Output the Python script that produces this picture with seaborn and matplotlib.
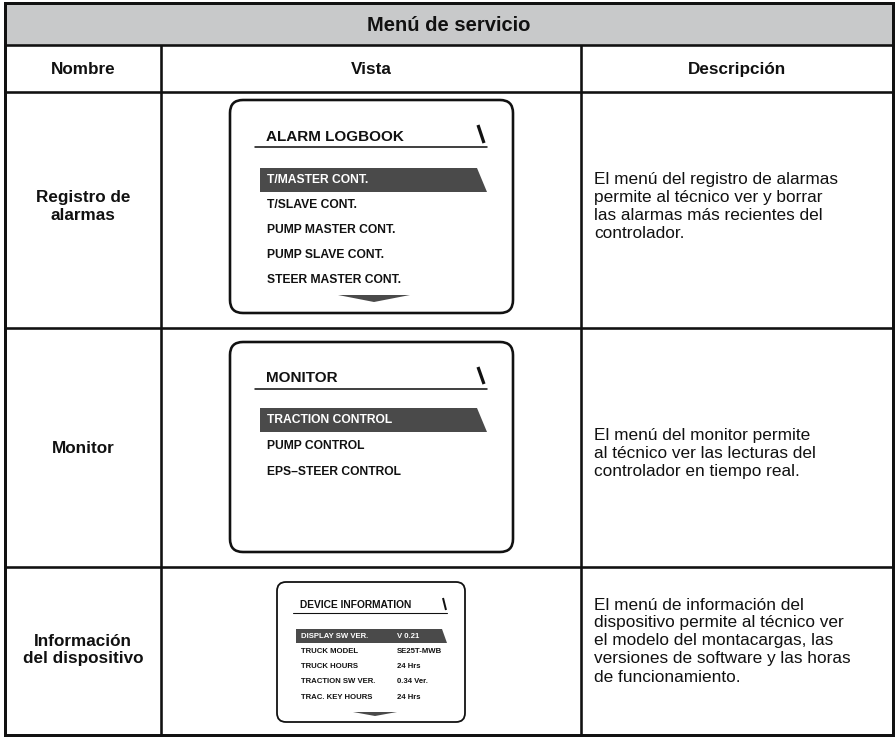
import matplotlib
matplotlib.use("Agg")
import matplotlib.pyplot as plt
import seaborn as sns
from matplotlib.patches import Rectangle, FancyBboxPatch, Polygon

# ---------------- data ----------------
title = "Menú de servicio"
col_headers = ["Nombre", "Vista", "Descripción"]
row_names = [["Registro de", "alarmas"], ["Monitor"], ["Información", "del dispositivo"]]
descriptions = [
    ["El menú del registro de alarmas", "permite al técnico ver y borrar",
     "las alarmas más recientes del", "controlador."],
    ["El menú del monitor permite", "al técnico ver las lecturas del",
     "controlador en tiempo real."],
    ["El menú de información del", "dispositivo permite al técnico ver",
     "el modelo del montacargas, las", "versiones de software y las horas",
     "de funcionamiento."],
]
screen_titles = ["ALARM LOGBOOK", "MONITOR", "DEVICE INFORMATION"]
alarm_items = ["T/MASTER CONT.", "T/SLAVE CONT.", "PUMP MASTER CONT.",
               "PUMP SLAVE CONT.", "STEER MASTER CONT."]
monitor_items = ["TRACTION CONTROL", "PUMP CONTROL", "EPS\u2013STEER CONTROL"]
device_items = ["DISPLAY SW VER.", "TRUCK MODEL", "TRUCK HOURS",
                "TRACTION SW VER.", "TRAC. KEY HOURS"]
device_values = ["V 0.21", "SE25T-MWB", "24 Hrs", "0.34 Ver.", "24 Hrs"]

# ---------------- style ----------------
sns.set_theme(style="white")
plt.rcParams["font.family"] = ["Liberation Sans", "DejaVu Sans"]

W, H = 896, 737
fig = plt.figure(figsize=(W / 100, H / 100), dpi=100)
ax = fig.add_axes([0, 0, 1, 1])
ax.set_xlim(0, W)
ax.set_ylim(H, 0)
ax.axis("off")
sns.despine(ax=ax, left=True, bottom=True)

PX = 0.72  # points per pixel at 100 dpi
col_x = [5, 161, 581, 893]
row_y = [3, 45, 92, 328, 567, 735]
ink = "#111111"

# title band
ax.add_patch(Rectangle((col_x[0], row_y[0]), col_x[3] - col_x[0], row_y[1] - row_y[0],
                       facecolor="#c8c9ca", edgecolor="none", zorder=1))
# grid lines
for y in row_y[1:-1]:
    ax.plot([col_x[0], col_x[3]], [y, y], color=ink, lw=2.6 * PX, solid_capstyle="butt", zorder=3)
for x in col_x[1:-1]:
    ax.plot([x, x], [row_y[1], row_y[-1]], color=ink, lw=2.6 * PX, solid_capstyle="butt", zorder=3)
ax.add_patch(Rectangle((col_x[0], row_y[0]), col_x[3] - col_x[0], row_y[-1] - row_y[0],
                       facecolor="none", edgecolor=ink, lw=3.0 * PX, zorder=4))

ax.text((col_x[0] + col_x[3]) / 2, (row_y[0] + row_y[1]) / 2 + 1, title,
        ha="center", va="center", fontsize=14.5, fontweight="bold", color=ink)
for i, h in enumerate(col_headers):
    ax.text((col_x[i] + col_x[i + 1]) / 2, (row_y[1] + row_y[2]) / 2 + 1, h,
            ha="center", va="center", fontsize=12.3, fontweight="bold", color=ink)

LS = 18
name_centers = [206, 448, 650]
desc_centers = [206, 453, 641]
for r, lines in enumerate(row_names):
    n = len(lines)
    for k, t in enumerate(lines):
        y = name_centers[r] + (k - (n - 1) / 2) * LS
        ax.text((col_x[0] + col_x[1]) / 2, y, t, ha="center", va="center",
                fontsize=12.3, fontweight="bold", color=ink)
for r, lines in enumerate(descriptions):
    n = len(lines)
    for k, t in enumerate(lines):
        y = desc_centers[r] + (k - (n - 1) / 2) * LS
        ax.text(594, y, t, ha="left", va="center", fontsize=12.4, color=ink)


def screen(x0, y0, x1, y1, rad, lw, title_txt, title_fs, title_y, ul_y, ul_x0, ul_x1,
           bs, items, item_fs, item_y0, item_dy, hl_h, hl_x0, hl_x1, slant, text_x,
           values=None, val_x=None, arrow=None):
    ax.add_patch(FancyBboxPatch((x0, y0), x1 - x0, y1 - y0,
                                boxstyle=f"round,pad=0,rounding_size={rad}",
                                facecolor="white", edgecolor=ink, lw=lw, zorder=5))
    ax.text(text_x, title_y, title_txt, ha="left", va="center", fontsize=title_fs,
            fontweight="bold", color=ink, zorder=7)
    ax.plot([ul_x0, ul_x1], [ul_y, ul_y], color=ink, lw=lw * 0.6, zorder=6)
    ax.plot(bs[0], bs[1], color=ink, lw=bs[2], solid_capstyle="butt", zorder=6)
    for k, it in enumerate(items):
        y = item_y0 + k * item_dy
        col = ink
        if k == 0:
            ax.add_patch(Polygon([(hl_x0, y - hl_h / 2), (hl_x1 - slant, y - hl_h / 2),
                                  (hl_x1, y + hl_h / 2), (hl_x0, y + hl_h / 2)],
                                 closed=True, facecolor="#4a4a4a", edgecolor="none", zorder=6))
            col = "white"
        ax.text(text_x + 1, y, it, ha="left", va="center", fontsize=item_fs,
                fontweight="bold", color=col, zorder=7)
        if values is not None:
            ax.text(val_x, y, values[k], ha="left", va="center", fontsize=item_fs,
                    fontweight="bold", color=col, zorder=7)
    if arrow is not None:
        ax0, ax1_, ay0, ay1 = arrow
        ax.add_patch(Polygon([(ax0, ay0), (ax1_, ay0), ((ax0 + ax1_) / 2, ay1)],
                             closed=True, facecolor="#4a4a4a", edgecolor="none", zorder=6))


# alarm logbook screen
screen(230, 100, 513, 313, 13, 2.6 * PX, screen_titles[0], 11, 137, 147, 255, 487,
       ([478, 484], [125, 143], 3.2 * PX), alarm_items, 8.7, 180, 25, 24, 260, 487, 10, 266,
       arrow=(338, 410, 295, 302))
# monitor screen
screen(230, 342, 513, 552, 13, 2.6 * PX, screen_titles[1], 11, 378, 389, 255, 487,
       ([478, 484], [367, 384], 3.2 * PX), monitor_items, 8.7, 420, 26, 24, 260, 487, 10, 266)
# device info screen
screen(277, 582, 465, 722, 9, 1.8 * PX, screen_titles[2], 7.4, 605, 613, 293, 447,
       ([443, 446], [598, 610], 2.0 * PX), device_items, 5.6, 636, 15.3, 14, 296, 447, 5, 300,
       values=device_values, val_x=397, arrow=(353, 397, 712, 716))

fig.savefig("out.png", dpi=100, facecolor="white")
